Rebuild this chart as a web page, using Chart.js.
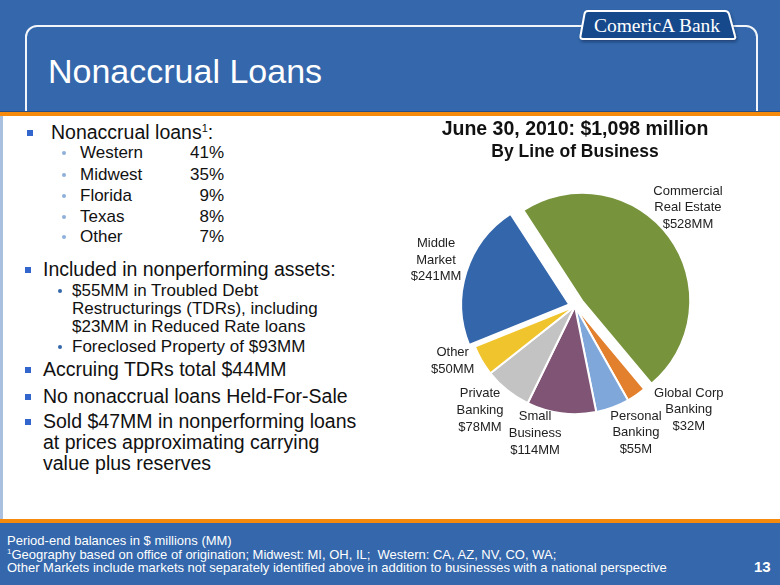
<!DOCTYPE html>
<html>
<head>
<meta charset="utf-8">
<script src="https://cdn.jsdelivr.net/npm/chart.js@4.4.0/dist/chart.umd.min.js"></script>
<style>
body{margin:0;width:780px;height:585px;overflow:hidden;background:#3467ab;font-family:"Liberation Sans",Arial,sans-serif;position:relative}
.abs{position:absolute;white-space:nowrap}
#frame{position:absolute;left:25px;top:25px;width:733px;height:150px;box-sizing:border-box;border:2px solid #f2f5fa;border-radius:12px}
#title{left:48px;top:54px;font-size:34px;line-height:34px;color:#fff}
#topline{position:absolute;left:0;top:111px;width:780px;height:5px;background:#f58a0c;border-top:1px solid #284f86}
#panel{position:absolute;left:0;top:116px;width:780px;height:403px;background:#fff;box-sizing:border-box;border-left:3px solid #a9c0e0}
#botline{position:absolute;left:0;top:519px;width:780px;height:4px;background:#f58a0c}
.sq{position:absolute;width:6px;height:6px;background:#3366cc}
.dot{position:absolute;width:4px;height:4px;border-radius:50%}
.main{font-size:19.5px;line-height:21px;color:#111}
.sub{font-size:17px;line-height:21px;color:#111}
.pct{text-align:right;width:60px}
sup{font-size:11px;line-height:0;vertical-align:7px}
.foot{color:#fff;font-size:13px;line-height:14px}
#chartbox{position:absolute;left:400px;top:116px;width:380px;height:403px}
</style>
</head>
<body>
<div id="frame"></div>
<svg class="abs" style="left:575px;top:6px" width="172" height="42">
  <defs><filter id="sh" x="-10%" y="-10%" width="130%" height="150%"><feDropShadow dx="1" dy="2" stdDeviation="1.5" flood-color="#0a2a55" flood-opacity="0.6"/></filter></defs>
  <path d="M13 5 L150 5 Q153 5 154 8 L160 30 Q161 33 158 33 L8 33 Q5 33 5.5 30 L9.5 8 Q10 5 13 5 Z" fill="#134a8b" stroke="#fff" stroke-width="2" filter="url(#sh)"/>
  <text x="82" y="26" text-anchor="middle" font-family="Liberation Serif, DejaVu Serif, serif" font-size="19.5" fill="#fff">ComericA Bank</text>
</svg>
<div id="title" class="abs">Nonaccrual Loans</div>
<div id="topline"></div>
<div id="panel"></div>
<div id="botline"></div>

<div class="sq" style="left:27px;top:130px"></div>
<div class="abs main" style="left:51px;top:122px">Nonaccrual loans<sup>1</sup>:</div>

<div class="dot" style="left:62px;top:151px;background:#8fb0dc"></div>
<div class="abs sub" style="left:80px;top:142px">Western</div>
<div class="abs sub pct" style="left:164px;top:142px">41%</div>
<div class="dot" style="left:62px;top:173px;background:#8fb0dc"></div>
<div class="abs sub" style="left:80px;top:164px">Midwest</div>
<div class="abs sub pct" style="left:164px;top:164px">35%</div>
<div class="dot" style="left:62px;top:194px;background:#8fb0dc"></div>
<div class="abs sub" style="left:80px;top:185px">Florida</div>
<div class="abs sub pct" style="left:164px;top:185px">9%</div>
<div class="dot" style="left:62px;top:215px;background:#8fb0dc"></div>
<div class="abs sub" style="left:80px;top:206px">Texas</div>
<div class="abs sub pct" style="left:164px;top:206px">8%</div>
<div class="dot" style="left:62px;top:235px;background:#8fb0dc"></div>
<div class="abs sub" style="left:80px;top:226px">Other</div>
<div class="abs sub pct" style="left:164px;top:226px">7%</div>

<div class="sq" style="left:25px;top:267px"></div>
<div class="abs main" style="left:43px;top:259px">Included in nonperforming assets:</div>
<div class="dot" style="left:58px;top:289px;background:#3366aa"></div>
<div class="abs sub" style="left:72px;top:280px">$55MM in Troubled Debt</div>
<div class="abs sub" style="left:72px;top:298px">Restructurings (TDRs), including</div>
<div class="abs sub" style="left:72px;top:316px">$23MM in Reduced Rate loans</div>
<div class="dot" style="left:58px;top:345px;background:#3366aa"></div>
<div class="abs sub" style="left:72px;top:336px">Foreclosed Property of $93MM</div>

<div class="sq" style="left:25px;top:367px"></div>
<div class="abs main" style="left:43px;top:359px">Accruing TDRs total $44MM</div>
<div class="sq" style="left:25px;top:394px"></div>
<div class="abs main" style="left:43px;top:386px">No nonaccrual loans Held-For-Sale</div>
<div class="sq" style="left:25px;top:419px"></div>
<div class="abs main" style="left:43px;top:411px">Sold $47MM in nonperforming loans</div>
<div class="abs main" style="left:43px;top:432px">at prices approximating carrying</div>
<div class="abs main" style="left:43px;top:453px">value plus reserves</div>

<div id="chartbox"><canvas id="lob_pie"></canvas></div>

<div class="abs foot" style="left:7px;top:534px">Period-end balances in $ millions (MM)</div>
<div class="abs foot" style="left:7px;top:547.5px"><sup style="font-size:8px;vertical-align:5px">1</sup>Geography based on office of origination; Midwest: MI, OH, IL;&nbsp; Western: CA, AZ, NV, CO, WA;</div>
<div class="abs foot" style="left:7px;top:561px">Other Markets include markets not separately identified above in addition to businesses with a national perspective</div>
<div class="abs" style="left:754px;top:559px;color:#fff;font-weight:bold;font-size:15px;line-height:16px">13</div>

<script>
// nonaccrual loans by line of business, June 30, 2010 ($MM)
const lineas = ['Commercial Real Estate', 'Global Corp Banking', 'Personal Banking', 'Small Business', 'Private Banking', 'Other', 'Middle Market'];
const saldos = [528, 32, 55, 114, 78, 50, 241];
const etiquetas = [
    ['Commercial', 'Real Estate', '$528MM'],
    ['Global Corp', 'Banking', '$32M'],
    ['Personal', 'Banking', '$55M'],
    ['Small', 'Business', '$114MM'],
    ['Private', 'Banking', '$78MM'],
    ['Other', '$50MM'],
    ['Middle', 'Market', '$241MM']
];
const colores = ['#77933c', '#e3802e', '#7fa7da', '#7f5475', '#c3c3c3', '#efc42c', '#3466ab'];

// pull the exploded slices out from the centre
const separar = {
    id: 'separar',
    afterDatasetUpdate(chart, args) {
        const dist = chart.data.datasets[args.index].explode || [];
        args.meta.data.forEach((arc, i) => {
            if (!dist[i]) return;
            const mid = (arc.startAngle + arc.endAngle) / 2;
            arc.x += Math.cos(mid) * dist[i];
            arc.y += Math.sin(mid) * dist[i];
        });
    }
};

// labels outside the pie
const rotulos = {
    id: 'rotulos',
    afterDatasetsDraw(chart, args, opts) {
        const ctx = chart.ctx;
        const area = chart.chartArea;
        const cx = (area.left + area.right) / 2;
        const cy = (area.top + area.bottom) / 2;
        const arcs = chart.getDatasetMeta(0).data;
        ctx.save();
        ctx.font = '13px "Liberation Sans", Arial, sans-serif';
        ctx.fillStyle = '#222';
        ctx.textAlign = 'center';
        ctx.textBaseline = 'middle';
        arcs.forEach((arc, i) => {
            const mid = (arc.startAngle + arc.endAngle) / 2;
            const d = arc.outerRadius * opts.factor;
            const n = opts.nudge[i] || [0, 0];
            const x = cx + Math.cos(mid) * d + n[0];
            const y = cy + Math.sin(mid) * d + n[1];
            const lines = etiquetas[i];
            lines.forEach((t, k) => {
                ctx.fillText(t, x, y + (k - (lines.length - 1) / 2) * 16.7);
            });
        });
        ctx.restore();
    }
};

const pie_lob = document.getElementById('lob_pie').getContext('2d');
const graf_pie_lob = new Chart(pie_lob, {
    type: 'pie',
    data: {
        labels: lineas,
        datasets: [{
            data: saldos,
            backgroundColor: colores,
            borderColor: '#ffffff',
            borderWidth: 2,
            explode: [9, 0, 0, 0, 0, 0, 6]
        }]
    },
    options: {
        responsive: true,
        maintainAspectRatio: false,
        animation: false,
        events: [],
        rotation: -33,
        radius: 108,
        layout: { padding: { left: 0, right: 30, top: 0, bottom: 69 } },
        plugins: {
            legend: { display: false },
            tooltip: { enabled: false },
            title: {
                display: true,
                text: 'June 30, 2010: $1,098 million',
                color: '#111',
                font: { family: '"Liberation Sans", Arial, sans-serif', size: 19.5, weight: 'bold', lineHeight: 1.2 },
                padding: { top: 2, bottom: 0 }
            },
            subtitle: {
                display: true,
                text: 'By Line of Business',
                color: '#111',
                font: { family: '"Liberation Sans", Arial, sans-serif', size: 17.5, weight: 'bold', lineHeight: 1.2 },
                padding: { top: 0, bottom: 0 }
            },
            rotulos: {
                factor: 1.3,
                nudge: [[0, -15], [34, -12], [12, -5], [-22, -12], [-7, -5], [-1, -16], [-5, -4]]
            }
        }
    },
    plugins: [separar, rotulos]
});
</script>
</body>
</html>
